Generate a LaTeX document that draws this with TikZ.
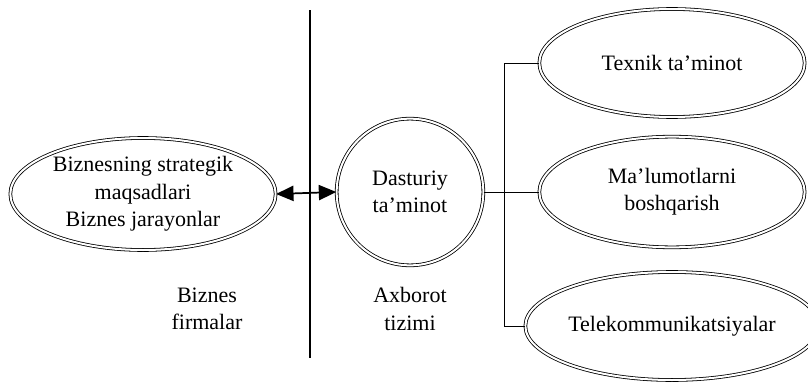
\documentclass[tikz,border=0pt]{standalone}
\usepackage{fontspec}
\setmainfont{Liberation Serif}
\usetikzlibrary{shapes.geometric,arrows.meta}

\begin{document}
\begin{tikzpicture}[
    x=0.75pt, y=-0.75pt,
    font=\fontsize{16.5}{20.5}\selectfont,
    dbl/.style={draw, double, double distance=1.5pt, line width=0.6pt},
    oval/.style={dbl, ellipse, minimum width=199pt, minimum height=81pt, inner sep=0pt, align=center},
    kreis/.style={dbl, circle, minimum size=110pt, inner sep=0pt, align=center},
    lbl/.style={align=center}
  ]
  \useasboundingbox (0,0) rectangle (808,382);
  % Trennlinie
  \coordinate (top) at (310,10);
  \coordinate (bot) at (310,358);
  \draw[line width=0.9pt] (top) -- (bot);
  % linke Seite
  \node[oval, minimum height=84pt] (biz) at (143,194) {Biznesning strategik\\ maqsadlari\\ Biznes jarayonlar};
  \node[lbl] (firm) at (207,309) {Biznes\\ firmalar};
  % rechte Seite
  \node[kreis] (dast) at (410,192) {Dasturiy\\ ta'minot};
  \node[lbl] (axb) at (410,309) {Axborot\\ tizimi};
  \node[oval] (tex) at (672,63) {Texnik ta'minot};
  \node[oval, minimum height=83pt] (mal) at (672,192) {Ma'lumotlarni\\ boshqarish};
  \node[oval] (tel) at (672,326) {Telekommunikatsiyalar};
  % Verbindungen
  \draw[line width=1.3pt, {Triangle[length=4.6mm,width=4mm]}-{Triangle[length=4.6mm,width=4mm]}] (biz.east) -- (dast.west);
  \coordinate (junc) at (504,192);
  \draw[line width=0.7pt] (dast.east) -- (mal.west);
  \draw[line width=0.7pt] (tex.west) -| (junc);
  \draw[line width=0.7pt] (tel.west) -| (junc);
\end{tikzpicture}
\end{document}
